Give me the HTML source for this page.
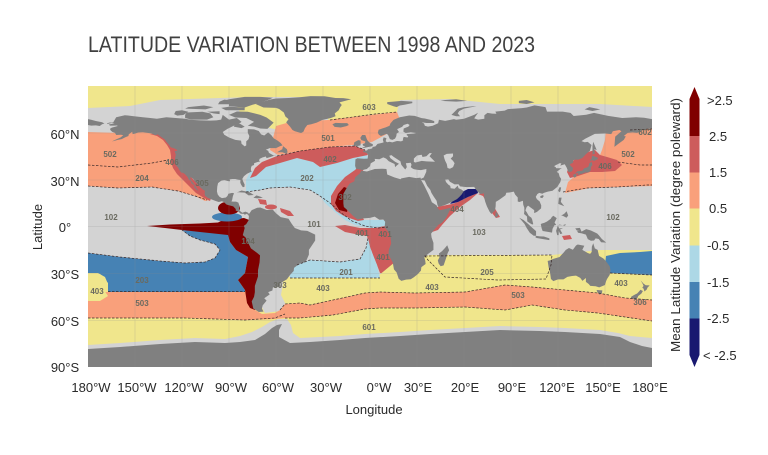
<!DOCTYPE html>
<html><head><meta charset="utf-8"><style>
html,body{margin:0;padding:0;background:#fff;}
svg{display:block;}
text{font-family:"Liberation Sans",Arial,sans-serif;}
</style></head><body>
<svg width="768" height="455" viewBox="0 0 768 455" xmlns="http://www.w3.org/2000/svg">
<rect width="768" height="455" fill="#fff"/>
<text x="88" y="52" font-size="22" fill="#404040" textLength="447" lengthAdjust="spacingAndGlyphs">LATITUDE VARIATION BETWEEN 1998 AND 2023</text>

<defs><clipPath id="mc"><rect x="88" y="86" width="564" height="281"/></clipPath></defs>
<g clip-path="url(#mc)">
<rect x="88" y="86" width="564" height="281" fill="#d3d3d3"/>
<polygon fill="#f0e68c" points="88,86 652,86 652,107 600,104 560,104 500,104 450,99 400,100 397,112 353,117 328,120 330,97 262,97 250,97 160,100 130,106 88,108"/>
<polygon fill="#f0e68c" points="235,103 290,103 292,128 282,131 270,128 255,120 240,112"/>
<polygon fill="#f9a07b" points="276,126 290,122 305,121 328,120 353,117 397,112 402,125 385,135 372,142 353,145 330,147 300,151 278,155 270,150"/>
<polygon fill="#f9a07b" points="88,132 120,133 140,131 155,133 165,138 172,148 176,160 180,170 190,180 200,190 210,200 205,201 195,196 178,191 152,187 118,188 88,186"/>
<polygon fill="#f9a07b" points="565,193 568,182 575,176 588,170 598,160 602,150 605,140 606,130 615,127 635,126 652,125 652,186 620,187 590,188"/>
<polygon fill="#cd5c5c" points="150,134 157,136 163,140 167,145 170,150 171,156 171,162 173,168 177,174 183,180 189,186 196,193 204,198 210,201 212,196 200,186 192,178 185,170 180,163 178,155 177,147 170,138 160,133"/>
<polygon fill="#cd5c5c" points="567,172 570,163 578,157 588,152 595,150 600,155 607,157 617,160 622,165 615,171 602,172 590,172 578,176 570,178"/>
<polygon fill="#add8e6" points="246,180 250,172 256,170 266,167 280,163 297,158 313,162 320,167 337,163 353,158 367,155 368,160 360,170 350,182 343,194 343,205 350,213 358,220 390,220 390,226 383,228 370,228 355,225 345,220 335,212 325,203 320,196 310,190 290,187 270,188 260,190 246,192"/>
<polygon fill="#cd5c5c" points="250,178 255,168 262,162 277,156 300,151 330,147 355,146 365,150 368,155 353,158 337,163 320,167 313,162 297,158 280,163 266,167 256,176"/>
<polygon fill="#cd5c5c" points="365,160 355,170 345,177 337,186 331,196 331,204 336,211 344,216 352,219 358,221 364,220 360,212 352,200 352,185 362,172 370,160"/>
<polygon fill="#800000" points="344,187 338,194 335,203 339,210 347,212 349,200 352,190"/>
<polygon fill="#cd5c5c" points="335,226 345,225 360,228 375,228 385,226 390,222 396,225 397,270 392,275 380,273 377,265 373,255 370,247 367,236 355,234 345,232"/>
<polygon fill="#f0e68c" points="88,268 255,268 262,277 378,276 395,262 420,257 430,255 552,255 600,250 652,250 652,338 630,336 618,333 600,330 565,328 540,327 500,326 465,328 430,330 400,332 365,334 340,336 300,338 293,333 291,325 287,319 278,319 270,322 262,327 252,332 240,336 225,339 195,338 160,340 120,343 88,345"/>
<polygon fill="#add8e6" points="290,268 297,265 310,260 340,262 360,259 366,248 368,238 370,247 373,255 377,265 380,278 368,278 318,278 290,278"/>
<polygon fill="#d3d3d3" points="262,277 278,277 283,283 281,295 286,305 280,311 265,313 258,300"/>
<polygon fill="#f9a07b" points="88,292 245,292 250,300 255,310 262,314 275,313 280,310 285,304 300,303 310,305 333,300 365,293 380,292 415,293 465,292 505,285 532,287 565,290 598,293 625,298 652,300 652,321 625,317 598,313 565,310 532,305 505,310 465,307 415,308 380,308 365,309 333,315 300,318 285,318 275,319 245,320 185,318 88,318"/>
<polygon fill="#4682b4" points="182,230 228,234 230,242 236,250 248,257 245,273 238,280 245,290 245,292 108,292 108,283 100,274 88,273 88,253 120,257 160,261 185,263 205,262 215,258 220,250 215,244 200,240 190,236"/>
<polygon fill="#4682b4" points="606,256 620,253 640,252 652,251 652,275 630,274 610,273 605,266"/>
<polygon fill="#f0e68c" points="88,273 98,273 105,277 108,284 104,290 108,296 100,301 88,301"/>
<polygon fill="#800000" points="147,226 170,224.5 200,223.5 218,222.5 225,219 235,219 244,218 252,221 262,230 265,260 262,300 255,310 250,308 247,303 245,290 238,280 245,273 248,257 236,250 230,242 228,235 200,232 182,230 165,228"/>
<ellipse cx="227" cy="217" rx="15" ry="4.5" fill="#4682b4"/>
<ellipse cx="229" cy="208" rx="11" ry="6.5" fill="#800000"/>
<polygon fill="#cd5c5c" points="437,207 452,204 458,202 468,197 478,193 470,200 460,207 450,216 442,225 438,230 432,232 430,215"/>
<polygon fill="#191970" points="450,204 455,198 460,193 468,189 477,189 478,193 468,197 458,202"/>
<polygon fill="#cd5c5c" points="478,194 483,196 488,205 492,213 496,218 500,217 497,212 490,200 485,193"/>
<ellipse cx="271" cy="207" rx="6" ry="2.5" fill="#cd5c5c"/>
<polygon fill="#cd5c5c" points="280,208 290,211 294,216 288,216 281,212"/>
<polygon fill="#cd5c5c" points="258,199 266,200 267,205 260,204"/>
<polygon fill="#cd5c5c" points="562,236 570,235 572,239 564,240"/>

<g fill="#808080" transform="translate(370,226.5) scale(1.566667,-1.561111)">
<polygon points="-168,65.6 -164,66.5 -162,70 -156.5,71.3 -152,70.8 -145,70 -141,69.6 -136,69 -130,70 -124,69.5 -118,69 -114,68.3 -108,68 -102,67.8 -98,68 -95,68.5 -94,71.5 -90,68.5 -85,69.5 -82,67 -84,65.5 -87,64.5 -91,62.5 -94,60.5 -93,58.8 -90,57 -86,55.5 -82.3,55 -82,53 -80,51.3 -79,52 -79,54.5 -77.5,56 -77,58 -78,60 -78,62.4 -74,62.2 -71,61.2 -69.5,59 -67.5,58.3 -65,60.3 -63,58.5 -61.5,56.5 -59,55 -57,53.5 -55.8,52 -57.5,51.4 -60,50.2 -64,50.2 -66.5,49.2 -65,48.5 -64.5,47.2 -61.5,45.5 -60,45.8 -63.5,44.5 -66,43.8 -66.5,44.8 -68.5,44.3 -70.5,43.3 -70.8,42.1 -70,41.7 -72,41.2 -74,40.5 -74,39.4 -75.5,38.8 -76,37.5 -76,36 -75.5,35.2 -77,34.5 -78.5,33.8 -80.5,32.2 -81.5,30.5 -81,29 -80,26.8 -80.2,25.3 -81.2,25.2 -82.2,26.7 -82.8,28 -82.7,29.8 -84.3,30 -86,30.4 -88,30.4 -89.6,30.2 -89.3,29 -90.5,29.1 -93,29.7 -95,29.3 -97,27.8 -97.5,25.5 -97.7,22.5 -97.2,20.5 -96,19 -94.5,18.2 -92,18.6 -91,19.5 -90.4,21 -88,21.5 -86.8,21.3 -87.5,19.5 -88,17 -88.5,15.9 -85.5,15.9 -84,15.3 -83.3,13 -83.6,11 -83,9.9 -81.5,8.8 -79.5,9.5 -77.8,8.8 -77.3,8 -77.8,7.3 -78.5,8.2 -80,7.5 -80.5,8.1 -82.5,8.2 -84,9.5 -85.7,10.2 -85.7,11.2 -87.3,12.9 -88.5,13.2 -91.5,14 -93.5,15.8 -94.5,16.2 -96.5,15.7 -98.5,16.3 -101,17.3 -103.5,18.3 -105.3,19.8 -105.6,21.5 -105.3,22.8 -106.5,23.5 -108.5,25.2 -110,27 -111.5,28.5 -112.8,30.5 -114.6,31.7 -114.7,30.2 -113.5,28.5 -112.5,27.5 -111.5,25.8 -110.3,24 -109.5,23.1 -110.3,23.2 -112,24.8 -112.3,26.5 -114,27.7 -114.3,28.8 -115.7,30.3 -116.5,31.8 -117.2,32.6 -118.4,33.8 -119.5,34.4 -120.6,34.6 -121.9,36.5 -122.5,37.8 -123.7,39 -124.3,40.4 -124.1,42 -124.5,43 -124,46.2 -124.7,48.4 -123.2,48.5 -123,49 -124.8,50 -127.2,50.8 -128,52 -130.2,54.5 -131,55.8 -133.5,57.5 -135.5,59 -137,58.5 -139.5,59.6 -142,60 -145,60.4 -148,60.2 -150,59.5 -151.5,59.2 -151.8,60.7 -154,59 -154.2,58 -156.5,57 -158.5,56 -161,55.5 -163.5,54.8 -164.7,54.5 -162,55.8 -159,57.2 -157.5,58.5 -159,58.8 -162,58.6 -162.8,60 -164.5,60.6 -165.5,61.5 -166,62.5 -164.8,63.3 -161,64.4 -161.5,64.7 -163.5,64.6 -166,64.6 -166.7,65.3 -164.5,65.8 -163,66.3 -166,66.6 -167.5,66.2"/>
<polygon points="-90,71.5 -85,73.7 -78,73.5 -70,71.5 -66,69.8 -61.5,66.5 -64,64 -65.5,62.5 -70,62.8 -74,64 -78,64.5 -74,67 -79,69.5 -86,69.8"/>
<polygon points="-90,77 -80,76.2 -75,78 -70,79.3 -64,81.5 -62,82.5 -70,83 -80,83 -90,81.5 -95,80 -90,78.5"/>
<polygon points="-92,74.5 -80,74.5 -80,76.2 -90,76.7 -95,76"/>
<polygon points="-118,71.5 -117,73 -107,73.5 -102,72.5 -100,70 -104,68.5 -114,68.5 -118,69.5"/>
<polygon points="-125,72 -124,74 -120,74.5 -116,73.5 -119,71.5 -123,71"/>
<polygon points="-118,75.5 -105,75 -100,76.5 -106,77.5 -116,76.5"/>
<polygon points="-104,73.5 -96,73.8 -96,72 -100,72.5"/>
<polygon points="-97,78.3 -88,78.3 -86,80.5 -93,81.3 -96,80"/>
<polygon points="-87,64 -82,63 -80,64 -83,65.8 -86,65.5"/>
<polygon points="-59.4,47.6 -56,49.5 -55.5,51.5 -53,49.5 -52.6,47.5 -53.8,46.8 -56,47.6"/>
<polygon points="-73,78.5 -68,76.2 -60,76 -58,75.3 -55,73 -54,70.5 -52,68.8 -53.5,66.7 -51,63.9 -49.5,61.8 -48,61 -44,59.9 -42.5,60.7 -41.5,63 -40,65 -37.5,65.5 -34,66.5 -30.5,68.2 -25,69.5 -22,70.6 -22.5,72.5 -20,74.5 -19,76.5 -18,77.8 -19.5,79.5 -16.5,80.3 -12,81.5 -17,82.2 -22,82.3 -29,83.4 -38,83.5 -45,82.8 -52,82.3 -60,82 -64,81.3 -67,80.4 -71,79.3"/>
<polygon points="-24,65.5 -22,66.4 -18,66.2 -14.5,66.2 -13.5,65 -15,64.3 -18.7,63.4 -22.6,63.8"/>
<polygon points="-85,21.8 -82,23.1 -77,22 -74.2,20.2 -77.5,19.9 -80,21.7 -84,21.9"/>
<polygon points="-74.4,18.4 -72.5,19.9 -68.4,18.6 -70,18.2 -72,18"/>
<polygon points="-77,8.3 -75.5,10.5 -72,12 -70,12.2 -66,10.6 -62,10.7 -60,8.5 -57,6 -52,5 -50,1.8 -48,-1 -44,-2.5 -40,-2.8 -35,-5.2 -35,-9 -37,-12 -39,-15 -39,-18 -40.5,-21.5 -42,-23 -45,-23.8 -48.5,-26.5 -48.7,-28.5 -51,-31 -53,-33.8 -55,-35 -57.5,-36.5 -57,-38.5 -62,-39 -62.3,-41 -65,-42 -64,-43.5 -67.5,-46 -66,-47.5 -68.5,-50.5 -69,-52.5 -68,-54.5 -71,-54.8 -74.5,-52.5 -75.5,-48 -74,-45 -73.5,-42 -73.5,-38 -71.5,-32 -71.5,-28 -70.5,-23 -70.2,-18.5 -72,-17 -76,-14 -77.5,-11 -79.5,-7 -81.2,-5.5 -80.5,-3 -80,-1 -80.5,0.5 -79,1.5 -77.5,4 -77.3,6.5 -77.8,7.8"/>
<polygon points="-17,21 -17,14.7 -16.7,12.5 -15,11 -13,9 -11,7 -8,4.5 -4,5.2 0,5.5 3,6.3 6,4.3 8.5,4.5 9.7,3 9.3,-0.5 11.8,-3.5 13,-6 13.5,-11 12,-15 11.8,-18 14.5,-23 15.3,-27.5 17,-29.5 18.3,-33.5 20,-34.8 23,-34 26,-33.8 28,-32.5 30.5,-30.5 32.5,-28.3 32.8,-26 35.5,-24 35.3,-22 34.7,-19.8 36.8,-17.8 40.5,-15 40.5,-10.5 39.3,-7 39,-4.6 41,-2 43.5,1 46,2.5 48.5,5.5 51,10.5 51.2,12 48,11.2 44.5,10.4 43.3,11.8 42.5,13.5 39.5,15.5 38.5,18 37.2,21 36,23.5 34.5,26.5 32.6,29.9 32.3,31.3 29.5,31 25,31.8 20,30.8 19.5,30.3 15.5,31.5 11,33.3 10.5,36.8 8,37 3,36.8 -2,35.2 -5.5,35.8 -6.5,34 -9.5,31.5 -10,29 -13,27.5 -15,24.5"/>
<polygon points="-9.3,43 -9.5,38.8 -8.9,37 -6,36.5 -5.5,36 -2,36.8 0,38.7 0.5,40.5 3.2,42 3,43.3 6,43.1 8.5,44.3 10.3,43.5 12,41.8 15.7,40 16,38 17,39 18.5,40.2 16,41.5 13,43.8 12.3,45.3 13.7,45.7 15,44.7 19.4,41.8 20,39.5 22.5,36.5 23.5,38 22.9,40.5 26,40.8 26.5,39.5 26,38 27.4,37 28.2,36.7 30.5,36.3 32.5,36.1 36,36.8 35.9,35 35,33 34.3,31.4 32.5,30.5 32.6,29.9 34.9,29.5 36.5,26 38.5,23.5 39.2,21.5 40.8,19 42.5,16.5 43,14 43.5,12.7 45,12.8 48.5,14 52,15.6 55.5,17.5 57,18.9 58.5,20.5 59.8,22.5 58.5,23.6 56.5,24.5 56,26.2 54,24.2 51.5,24.5 51.2,26 50,26.8 48.5,28.5 48,30 50,30.2 51,28.7 54,27 56.5,27.1 57.5,25.7 61.5,25.2 66.5,25.4 67.5,23.8 68.8,22.3 70.2,20.8 72.8,21.2 72.8,19 73.5,16 74.6,13 76.3,9.5 77.5,8 78.3,8.9 79.8,10.3 80.2,13 80.3,15.8 82.3,17 86.5,20 87,21.6 89,21.8 91.8,22.3 92.6,20.5 94.3,18.6 94.3,16 95.4,15.7 97.6,16.5 97.8,14 98.5,12 98.5,9.5 98.3,8 100.2,6.4 100.4,3.3 102,2.2 103.5,1.3 104.2,1.5 103.5,4.5 103,5.6 101.3,6.9 100,9.2 99.2,10.3 100,12.5 100.9,13.4 102.5,12.2 104.8,10.5 104.8,8.6 106.6,9.4 109.2,11.6 109.3,13.5 108.3,16 106.5,17.5 105.8,19 106.8,20.7 108,21.5 110,21 111,21.5 113.5,22.3 116.5,22.9 119.5,25.3 121.5,28.5 122,30.5 121,32 120.5,34 119.2,35 121.5,36.8 122.5,37.3 119,37.3 118.5,38 117.5,38.7 118.5,39.2 121,40.5 122.2,40.4 121.4,39 124.3,39.9 125.5,37.8 126.6,35 128.5,35.1 129.4,36 129.5,37.6 128.3,38.6 127.5,39.8 129.7,40.9 129.7,42.4 131,42.8 133,42.8 135.5,43.9 138,46.5 140.4,48.5 141.4,52.2 139,54.2 137,54 135,54.7 137.5,56.3 140.5,57.8 143.5,59.3 146,59.4 150,59.6 154,59.2 155,61 159.2,61.8 160.5,61 156.5,57.6 156,51 158.5,52.9 162,55.5 163.3,57.7 162,58 164.5,60 167.5,60.3 170.5,60 174.5,61.8 177.5,62.5 180,62.6 180,65 180,68.8 175,69.7 170,70 161,69.5 152,70.9 143,72.8 138,71.6 130,70.8 128,72.8 123,73.6 113,73.6 112,76.5 105,77.6 100,76.2 97,75.8 88,75.2 86,74.2 80,73.6 80.7,72.2 78,72.3 75,72.8 73,71.3 73,69 69,68.5 66.5,69.3 67.5,70.8 69,72.9 66.5,71.5 60,69 55,68.4 53.6,68.8 48,67.7 44,68.4 43.5,66.1 40,64.5 37,64 35,64.5 34.5,66 33,66.8 36,66.3 41,66.3 41,67.5 39,68.2 35,69.2 33,69.4 28.5,70.9 25,71.1 19,70 15,68.3 13,66 12.5,64.5 10,63.5 5.5,62 5,60 5.7,58.8 7,58 10.5,59.3 11.5,58.8 12.7,56 14.3,55.5 16,56.3 16.8,57.9 17,59.5 18.5,60.5 17.3,62.4 20.5,63.8 21.5,65 24,65.8 25.3,65 24.5,64 21.5,62.8 21.3,60.8 22.8,59.9 26,60.4 29.5,59.9 28,59.5 23.5,59.2 23.4,58.5 24.4,57.8 24,57 21.5,57.4 21,56 21.2,55.2 19.8,54.5 18.5,54.7 17.2,54.8 14.2,53.9 12.5,54.3 11,54 10,54.6 10.5,56.6 8.7,57.1 8.2,55.5 8.7,53.9 7,53.4 4.8,52.9 3.5,51.3 1.6,50.9 1.5,50.1 0,49.6 -1.3,49.6 -1.9,48.7 -4.6,48.6 -4.3,47.8 -2.2,47.2 -1.2,46 -1.5,43.5 -4,43.4 -8,43.7"/>
<polygon points="-180,65 -178,64.6 -175,64.8 -172.5,64.4 -171,65.5 -169.5,66 -171,66.8 -175,67.6 -178,68.4 -180,68.8"/>
<polygon points="-5.7,50 1.7,51.5 1.8,52.8 0,53.5 -1.5,55 -2,56 -3,58.6 -5,58.6 -6.2,56.8 -5.5,55.3 -3,54.5 -3.2,53.4 -4.7,52.8 -4.5,51.8 -3,51.4"/>
<polygon points="-6,52 -6,55 -7.5,55.3 -10,54 -10.5,51.7 -8,51.6"/>
<polygon points="11,78.5 15,77 17,76.5 19,77.5 22,78 27,79 27,80 20,80.5 15,80 11,79.7"/>
<polygon points="52,71.5 55,70.6 57.5,70.6 56,72.5 57,74 60,75.5 64,76.3 68,77 66,77 60,76.5 56,75.5 54,73.5"/>
<polygon points="95,79 100,78.5 105,79.5 100,81 95,80.5"/>
<polygon points="137,75 142,74 147,75 140,76.5"/>
<polygon points="45,80.5 55,80 62,80.5 55,81.5 48,81"/>
<polygon points="130.9,34 132.5,35.4 135.5,35.7 136.8,37.3 138.5,37.8 139.5,38.5 140,40.5 141.5,41.4 142,39.5 141,38 140.9,36 140,35 138.8,34.6 137.3,34.6 135.2,33.7 132.5,34.2"/>
<polygon points="132.5,33 134.7,33.8 134.3,34.3 132.8,33.9"/>
<polygon points="129.8,33.3 131.5,33.8 131.8,32 130.5,31.2 129.7,32.5"/>
<polygon points="140,41.6 141.7,42.5 143.3,42 145.5,43.3 145.2,44.2 141.8,45.4 141.3,43.2"/>
<polygon points="142,46 143.5,46.8 143.2,49.5 144.7,49 143,53 142.5,54.3 142,51.5"/>
<polygon points="120.1,23 121,25.2 122,25 121.5,22.5 120.8,21.9"/>
<polygon points="108.6,19.2 110,20.1 111,19.6 110,18.2 108.7,18.5"/>
<polygon points="120.2,14.5 120.6,18.5 122.3,18.5 121.8,15.8 124,13 122,13.8"/>
<polygon points="122,7 124,8.2 125.5,9.8 126.5,7 125.4,5.6 123,6.9"/>
<polygon points="95.3,5.6 98,4.2 100.5,2 104,-1.2 106,-3 106,-5.9 104.5,-5.9 102,-4 100,-1 98.6,1.7"/>
<polygon points="105.5,-6.8 106,-6 108.5,-6.3 111,-6.4 114.5,-7.6 114.5,-8.7 111,-8.2 106.4,-7.4"/>
<polygon points="109,1.5 109.6,-1.3 110.2,-2.9 114.5,-3.6 116.2,-3.9 116.5,-1.5 117.7,0.8 118.9,1 117.8,2.5 119.2,5.4 117,6.9 116,6 115.4,5 113,3.2 111.2,2.3 109.7,1.9"/>
<polygon points="119.5,-5.5 120.4,-5.5 120.5,-2.9 121.4,-4.8 122.8,-4.5 121.3,-1.9 123.3,-0.9 120.8,-1.3 120,0.5 120.9,1.3 124.5,0.5 125,1.5 122.9,0.8 120,0.8 119.5,-0.5 118.8,-2.8"/>
<polygon points="131,-1.2 134,-0.9 135,-3.3 138,-1.7 141,-2.6 145,-4.5 146,-5.5 148,-8 150.8,-10.3 147.5,-10.1 146,-8 144,-7.6 143,-9 141,-9.1 139,-8.1 138.7,-7.3 137.8,-5.2 135.2,-4.4 132.8,-4 132.2,-2.8 133.9,-2.5 132,-2.6"/>
<polygon points="113.4,-22 114,-26 115,-30 115.5,-33.6 117,-35 120,-33.9 123.5,-33.9 126,-32.3 129,-31.7 131.5,-31.5 134.2,-32.9 135.6,-34.8 137.8,-33 137.8,-35.5 139.6,-36.8 140.6,-38 144,-38.3 146.3,-39 150,-37.5 150.7,-35 151.3,-33.6 153,-31 153.5,-28 153,-25.5 150.8,-22.5 149,-20.5 146.2,-18.8 145.3,-15 143.5,-14 142.5,-10.7 141.6,-13 141.5,-16.3 140.5,-17.5 139,-17 135.5,-15 136.8,-12.3 132.6,-11.5 131.5,-12.2 129.5,-14.9 127,-13.8 125,-15 123.5,-16.8 122.2,-18.2 121,-19.5 117,-20.7 114.6,-21.8"/>
<polygon points="144.6,-40.7 148.3,-40.9 148,-43 146.5,-43.6 145.2,-42.2"/>
<polygon points="172.7,-34.4 174.5,-36.5 176,-37.6 178.5,-37.7 177,-39.3 176.8,-40.2 175.2,-41.6 174.6,-39.8 173.8,-39.2 174.6,-38 174,-36.7"/>
<polygon points="172.6,-40.5 174.2,-41.3 173.2,-43 171.2,-44.5 170.6,-46 169,-46.6 166.5,-46 166.7,-45 168.3,-44 170.5,-42.9 172,-41.3"/>
<polygon points="49.3,-12 50.5,-15.2 49.6,-17 48.5,-20.5 47,-24.9 45.1,-25.5 43.8,-23.7 43.3,-21.8 44.4,-19.5 44,-17.3 46,-15.8 48,-13.6"/>
<polygon points="79.8,6 80.3,9.8 81.9,7.5 81.2,6.1"/>
</g>
<g fill="#d3d3d3" transform="translate(370,226.5) scale(1.566667,-1.561111)">
<polygon points="28,41.3 28,43.5 30,45.5 33,46 33.5,44.5 36,45 38,47 39.5,47 38,45 41.5,41.5 36,41.7 33,42 29,41"/>
<polygon points="47,45.5 49,46.5 53,46.8 53,45 51.5,43.5 53,42 54,40.5 53,38 51,37 49.5,37.5 49,40 48,42 47.5,43.5"/>
</g>
<polygon fill="#808080" points="88,349 120,347 160,344 195,342 225,343 240,342 255,340 265,334 272,328 277,325 282,324 279,330 279,337 290,343 310,342 340,340 365,338 400,336 430,334 465,332 500,330 540,331 565,332 600,334 620,337 630,342 642,346 652,348 652,367 88,367"/>
<g stroke="#8c8c8c" stroke-width="0.6" opacity="0.35">
<line x1="135" y1="86" x2="135" y2="367"/><line x1="182" y1="86" x2="182" y2="367"/><line x1="229" y1="86" x2="229" y2="367"/><line x1="276" y1="86" x2="276" y2="367"/><line x1="323" y1="86" x2="323" y2="367"/><line x1="370" y1="86" x2="370" y2="367"/><line x1="417" y1="86" x2="417" y2="367"/><line x1="464" y1="86" x2="464" y2="367"/><line x1="511" y1="86" x2="511" y2="367"/><line x1="558" y1="86" x2="558" y2="367"/><line x1="605" y1="86" x2="605" y2="367"/>
<line x1="88" y1="133" x2="652" y2="133"/><line x1="88" y1="180" x2="652" y2="180"/><line x1="88" y1="226.5" x2="652" y2="226.5"/><line x1="88" y1="273.5" x2="652" y2="273.5"/><line x1="88" y1="320.5" x2="652" y2="320.5"/>
</g>
<g fill="none" stroke="#3a2a2a" stroke-width="0.7" stroke-dasharray="2.5 1.5">
<polyline points="88,165 118,167 152,163 168,160"/>
<polyline points="88,186 118,188 152,187 178,191 195,196 207,200"/>
<polyline points="246,192 260,190 270,188 290,187 310,190 320,196 330,203 340,212 352,221 365,226 378,228 388,227"/>
<polyline points="277,156 300,151 330,147 355,146 365,150"/>
<polyline points="330,120 353,117 375,114 397,112"/>
<polyline points="618,162 640,165 652,165"/>
<polyline points="563,192 587,188 617,187 647,185 652,185"/>
<polyline points="630,130 652,129"/>
<polyline points="297,265 310,260 340,262 360,259 366,248 368,238"/>
<polyline points="290,278 318,278 368,278 380,278"/>
<polyline points="108,291.5 245,291.5"/>
<polyline points="88,318 185,318 245,320 275,318 285,314"/>
<polyline points="280,310 285,304 300,303 310,305 333,300 365,293 380,292 415,293 465,292 505,285 532,287 565,290 598,293 625,298 652,300"/>
<polyline points="285,318 300,318 333,315 365,309 380,308 415,308 465,307 505,310 532,305 565,310 598,313 625,317 652,321"/>
<polygon points="425,256 552,255 551,265 546,279 498,280 445,277 436,268 428,260"/>
<polyline points="610,273 630,274 652,275"/>
<polyline points="88,253 120,257 160,261 185,263 205,262 215,258 220,250 215,244 200,240 190,236 182,230"/>
</g>
<g font-size="8" font-weight="bold" fill="#6a6a60" text-anchor="middle">
<text x="369" y="110">603</text><text x="328" y="141">501</text><text x="110" y="157">502</text><text x="172" y="165">406</text>
<text x="142" y="181">204</text><text x="202" y="186">305</text><text x="330" y="162">402</text><text x="307" y="181">202</text>
<text x="111" y="220">102</text><text x="314" y="227">101</text><text x="345" y="200">302</text><text x="248" y="244">104</text>
<text x="362" y="236">401</text><text x="385" y="237">401</text><text x="383" y="260">401</text><text x="346" y="275">201</text>
<text x="142" y="283">203</text><text x="280" y="288">303</text><text x="323" y="291">403</text><text x="97" y="294">403</text>
<text x="142" y="306">503</text><text x="369" y="330">601</text><text x="457" y="212">404</text><text x="479" y="235">103</text>
<text x="613" y="220">102</text><text x="628" y="157">502</text><text x="605" y="169">406</text><text x="645" y="135">602</text>
<text x="487" y="275">205</text><text x="432" y="290">403</text><text x="518" y="298">503</text><text x="621" y="286">403</text><text x="640" y="305">306</text>
</g>
</g>

<g font-size="13" fill="#2a2a2a" text-anchor="middle">
<text x="65" y="139">60°N</text><text x="65" y="186">30°N</text><text x="65" y="232">0°</text>
<text x="65" y="279">30°S</text><text x="65" y="326">60°S</text><text x="65" y="372">90°S</text>
<text x="91" y="392">180°W</text><text x="137" y="392">150°W</text><text x="184" y="392">120°W</text><text x="231" y="392">90°W</text>
<text x="278" y="392">60°W</text><text x="326" y="392">30°W</text><text x="379" y="392">0°W</text><text x="418" y="392">30°E</text>
<text x="465" y="392">20°E</text><text x="512" y="392">90°E</text><text x="557" y="392">120°E</text><text x="603" y="392">150°E</text><text x="650" y="392">180°E</text>
</g>
<text x="374" y="414" font-size="13" fill="#2a2a2a" text-anchor="middle">Longitude</text>
<text x="42" y="227" font-size="13" fill="#2a2a2a" text-anchor="middle" transform="rotate(-90 42 227)">Latitude</text>

<path d="M689.5,136 L689.5,99 L694.5,87 L699.5,99 L699.5,136 Z" fill="#800000"/>
<rect x="689.5" y="136" width="10" height="36.5" fill="#cd5c5c"/>
<rect x="689.5" y="172.5" width="10" height="36" fill="#f9a07b"/>
<rect x="689.5" y="208.5" width="10" height="37" fill="#f0e68c"/>
<rect x="689.5" y="245.5" width="10" height="36.5" fill="#add8e6"/>
<rect x="689.5" y="282" width="10" height="36.5" fill="#4682b4"/>
<path d="M689.5,318.5 L699.5,318.5 L699.5,355 L694.5,367 L689.5,355 Z" fill="#191970"/>
<g font-size="13" fill="#2a2a2a">
<text x="707" y="105">&gt;2.5</text><text x="709" y="141">2.5</text><text x="709" y="177">1.5</text><text x="709" y="213">0.5</text>
<text x="707" y="250">-0.5</text><text x="707" y="287">-1.5</text><text x="707" y="323">-2.5</text><text x="703" y="360">&lt; -2.5</text>
</g>
<text x="680" y="225" font-size="13" fill="#2a2a2a" text-anchor="middle" textLength="254" lengthAdjust="spacingAndGlyphs" transform="rotate(-90 680 225)">Mean Latitude Variation (degree poleward)</text>
</svg>
</body></html>
